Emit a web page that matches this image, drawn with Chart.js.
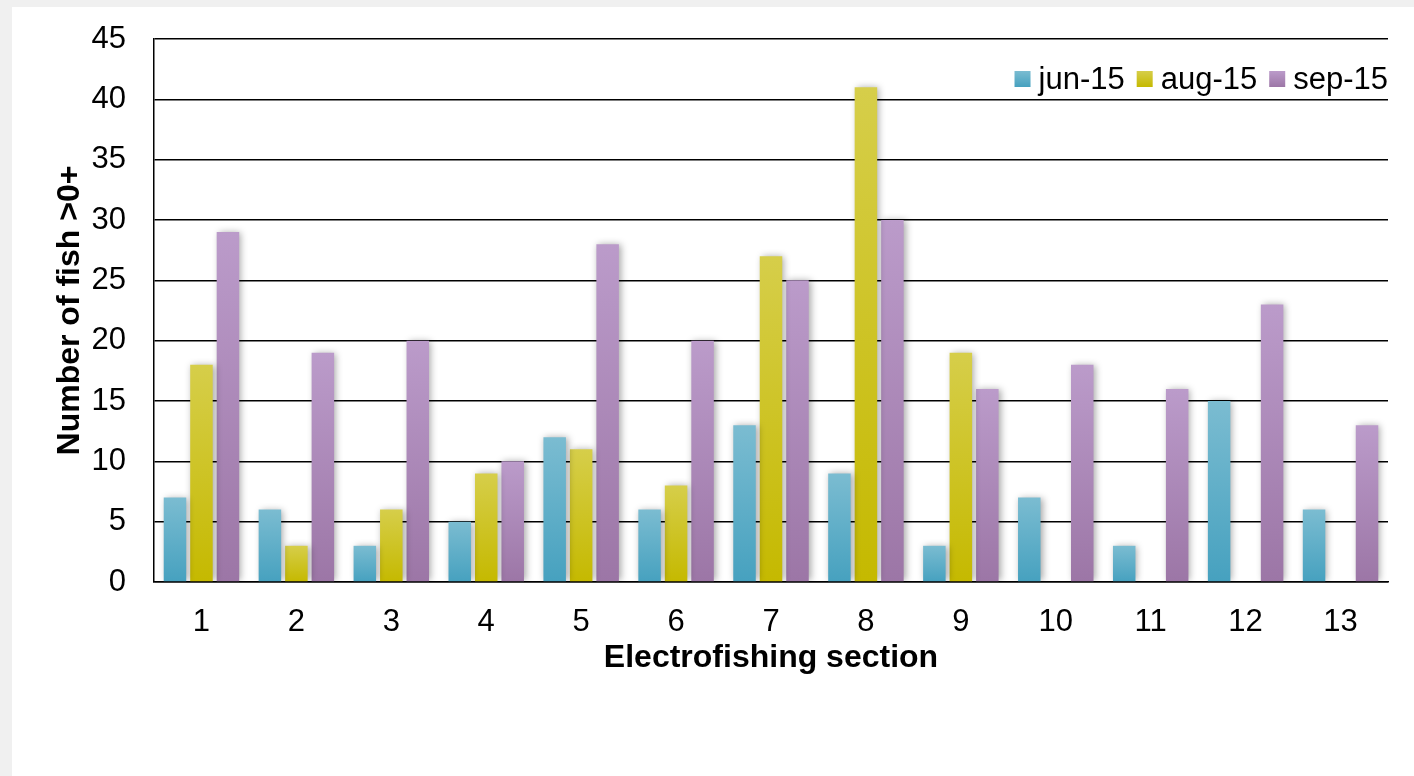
<!DOCTYPE html>
<html>
<head>
<meta charset="utf-8">
<script src="https://cdn.jsdelivr.net/npm/chart.js@4/dist/chart.umd.min.js"></script>
<style>
  html, body { margin: 0; padding: 0; background: #f0f0f0; width: 1414px; height: 776px; overflow: hidden; }
  #wrap { position: absolute; left: 12px; top: 7px; width: 1402px; height: 769px; background: #ffffff; }
  canvas { display: block; }
</style>
</head>
<body>
<div id="wrap"><canvas id="c" width="1402" height="769"></canvas></div>
<script>
const sections = ['1','2','3','4','5','6','7','8','9','10','11','12','13'];
const jun15 = [7, 6, 3, 5, 12, 6, 13, 9, 3, 7, 3, 15, 6];
const aug15 = [18, 3, 6, 9, 11, 8, 27, 41, 19, 0, 0, 0, 0];
const sep15 = [29, 19, 20, 10, 28, 20, 25, 30, 16, 18, 16, 23, 13];
const seriesNames = ['jun-15', 'aug-15', 'sep-15'];
const yTicks = [0, 5, 10, 15, 20, 25, 30, 35, 40, 45];

const FONT = "'Liberation Sans', Arial, sans-serif";
const colors = [
  { top: '#7bbcd1', bottom: '#46a1bf', mid: '#5fb0c9' },
  { top: '#d6ce4a', bottom: '#c5b900', mid: '#cec520' },
  { top: '#bb9bca', bottom: '#9c76a6', mid: '#ad88ba' }
];

function barGradient(idx) {
  return function(ctx) {
    const chart = ctx.chart;
    const area = chart.chartArea;
    const ys = chart.scales.y;
    if (!area || !ys) return colors[idx].mid;
    const v = ctx.raw;
    const top = ys.getPixelForValue(v || 0);
    const bottom = ys.getPixelForValue(0);
    if (!(bottom - top > 0.5)) return colors[idx].mid;
    const g = chart.ctx.createLinearGradient(0, top, 0, bottom);
    g.addColorStop(0, colors[idx].top);
    g.addColorStop(1, colors[idx].bottom);
    return g;
  };
}

const shadowPlugin = {
  id: 'barShadow',
  beforeDatasetsDraw(chart) {
    const c = chart.ctx;
    c.save();
    c.shadowColor = 'rgba(0,0,0,0.35)';
    c.shadowBlur = 7;
    c.shadowOffsetX = 2;
    c.shadowOffsetY = 0;
  },
  afterDatasetsDraw(chart) {
    chart.ctx.restore();
  }
};

const legendPlugin = {
  id: 'customLegend',
  afterDraw(chart) {
    const c = chart.ctx;
    const area = chart.chartArea;
    c.save();
    c.font = '31px ' + FONT;
    c.textBaseline = 'middle';
    c.textAlign = 'left';
    const box = 16, gapText = 8, gapItem = 12;
    const yc = 72;
    const widths = chart.data.datasets.map(d => c.measureText(d.label).width);
    let total = 0;
    widths.forEach((w, i) => { total += box + gapText + w + (i < widths.length - 1 ? gapItem : 0); });
    let x = area.right - total;
    chart.data.datasets.forEach((d, i) => {
      const g = c.createLinearGradient(0, yc - box / 2, 0, yc + box / 2);
      g.addColorStop(0, colors[i].top);
      g.addColorStop(1, colors[i].bottom);
      c.fillStyle = g;
      c.fillRect(x, yc - box / 2, box, box);
      x += box + gapText;
      c.fillStyle = '#000';
      c.fillText(d.label, x, yc + 1);
      x += widths[i] + gapItem;
    });
    c.restore();
  }
};

new Chart(document.getElementById('c'), {
  type: 'bar',
  data: {
    labels: sections,
    datasets: [
      { label: seriesNames[0], data: jun15, backgroundColor: barGradient(0) },
      { label: seriesNames[1], data: aug15, backgroundColor: barGradient(1) },
      { label: seriesNames[2], data: sep15, backgroundColor: barGradient(2) }
    ]
  },
  options: {
    responsive: false,
    animation: false,
    devicePixelRatio: 1,
    layout: { padding: { top: 32, right: 26, bottom: 94, left: 0 } },
    datasets: { bar: { categoryPercentage: 0.837, barPercentage: 0.85, borderWidth: 0 } },
    plugins: {
      legend: { display: false },
      tooltip: { enabled: false },
      title: { display: false }
    },
    scales: {
      x: {
        grid: { display: false, drawTicks: false },
        border: { display: true, color: '#000', width: 1.5 },
        ticks: { color: '#000', font: { family: FONT, size: 31 }, padding: 22, maxRotation: 0 },
        title: { display: true, text: 'Electrofishing section', color: '#000', font: { family: FONT, size: 32, weight: 'bold' }, padding: { top: 0, bottom: 5 } },
        afterFit(s) { s.height = 100; s.paddingLeft = 0; s.paddingRight = 0; }
      },
      y: {
        min: 0, max: 45,
        afterBuildTicks(s) { s.ticks = yTicks.map(v => ({ value: v })); },
        grid: { color: '#000', lineWidth: 1.5, drawTicks: false },
        border: { display: true, color: '#000', width: 1.5 },
        ticks: { color: '#000', font: { family: FONT, size: 31 }, padding: 28 },
        title: { display: true, text: 'Number of fish >0+', color: '#000', font: { family: FONT, size: 32, weight: 'bold' }, padding: { top: 39, bottom: 0 } },
        afterFit(s) { s.width = 142; s.paddingTop = 0; s.paddingBottom = 0; }
      }
    }
  },
  plugins: [shadowPlugin, legendPlugin]
});
</script>
</body>
</html>
